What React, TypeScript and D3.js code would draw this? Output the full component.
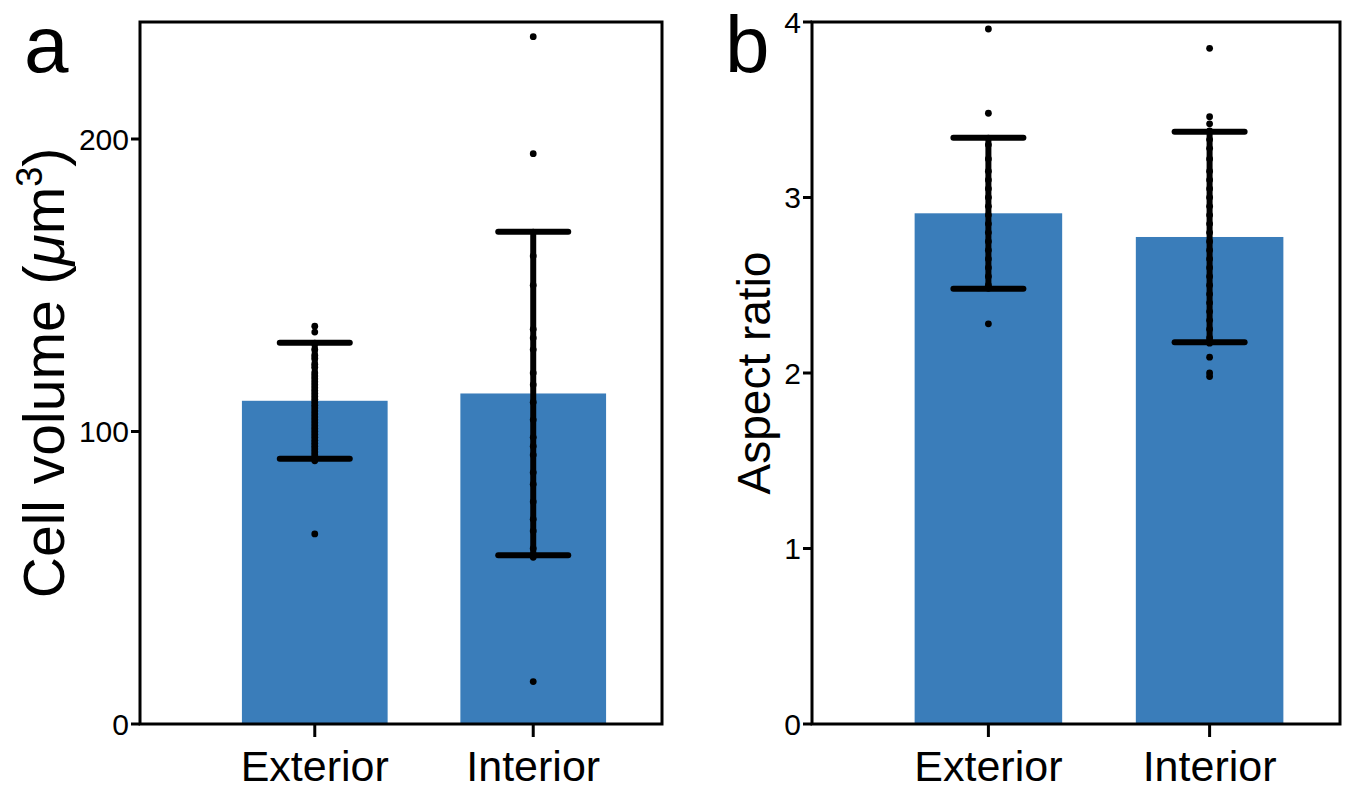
import React from "react";
import * as d3 from "d3";

const categories = ["Exterior", "Interior"];

// Panel a: cell volume
const volumeMeans = [110.5, 113];
const volumeSD = [19.8, 55.3];
const volumeExteriorPoints = [136, 134, 130, 128, 126, 125, 123, 122, 120, 119, 118, 117, 116, 115, 114, 113, 112, 111, 110, 109, 108, 107, 106, 105, 104, 103, 102, 101, 100, 99, 98, 97, 96, 95, 94, 93, 92, 91, 90, 65];
const volumeInteriorPoints = [235, 195, 160, 150, 135, 132, 128, 120, 116, 110, 104, 98, 95, 92, 86, 82, 76, 70, 66, 60, 58, 57, 14.5];

// Panel b: aspect ratio
const ratioMeans = [2.91, 2.775];
const ratioSD = [0.43, 0.6];
const ratioExteriorPoints = [3.96, 3.48, 3.3, 3.22, 3.15, 3.1, 3.05, 3.0, 2.95, 2.9, 2.85, 2.8, 2.75, 2.7, 2.65, 2.6, 2.55, 2.5, 2.28];
const ratioInteriorPoints = [3.85, 3.46, 3.42, 3.38, 3.33, 3.28, 3.22, 3.15, 3.1, 3.05, 3.0, 2.95, 2.9, 2.85, 2.8, 2.75, 2.7, 2.65, 2.6, 2.55, 2.5, 2.45, 2.4, 2.35, 2.3, 2.25, 2.2, 2.17, 2.09, 2.0, 1.98];

const volumeTicks = [0, 100, 200];
const ratioTicks = [0, 1, 2, 3, 4];

const BAR = "#3a7dba";
const FONT = "'Liberation Sans', Arial, Helvetica, sans-serif";

type PanelProps = {
  left: number; right: number; top: number; bottom: number;
  yMax: number; ticks: number[]; means: number[]; sd: number[];
  points: number[][]; title: React.ReactNode; titleX: number; titleSize: number;
};

function Panel(p: PanelProps) {
  const x = d3.scaleBand<string>().domain(categories).range([p.left + 46, p.right]).paddingInner(0.333).paddingOuter(0.256);
  const y = d3.scaleLinear().domain([0, p.yMax]).range([p.bottom, p.top]);
  const bw = x.bandwidth();
  const capHalf = 35;
  const cy = (p.top + p.bottom) / 2;
  return (
    <g>
      {categories.map((c, i) => (
        <rect key={c} x={x(c)!} y={y(p.means[i])} width={bw} height={y(0) - y(p.means[i])} fill={BAR} />
      ))}
      {categories.map((c, i) => {
        const cx = x(c)! + bw / 2;
        const hi = y(p.means[i] + p.sd[i]);
        const lo = y(p.means[i] - p.sd[i]);
        return (
          <g key={c + "e"} stroke="#000" strokeWidth={6} strokeLinecap="round">
            <line x1={cx} x2={cx} y1={hi} y2={lo} />
            <line x1={cx - capHalf} x2={cx + capHalf} y1={hi} y2={hi} />
            <line x1={cx - capHalf} x2={cx + capHalf} y1={lo} y2={lo} />
          </g>
        );
      })}
      {categories.map((c, i) => {
        const cx = x(c)! + bw / 2;
        return (
          <g key={c + "p"}>
            {p.points[i].map((v, j) => (
              <circle key={j} cx={cx} cy={y(v)} r={3.4} fill="#000" />
            ))}
          </g>
        );
      })}
      <rect x={p.left} y={p.top} width={p.right - p.left} height={p.bottom - p.top} fill="none" stroke="#000" strokeWidth={3} />
      {p.ticks.map((t) => (
        <g key={t}>
          <line x1={p.left - 9} x2={p.left} y1={y(t)} y2={y(t)} stroke="#000" strokeWidth={3} />
          <text x={p.left - 11} y={y(t)} dy="0.36em" textAnchor="end" fontSize={30} fontFamily={FONT}>{t}</text>
        </g>
      ))}
      {categories.map((c) => {
        const cx = x(c)! + bw / 2;
        return (
          <g key={c + "t"}>
            <line x1={cx} x2={cx} y1={p.bottom} y2={p.bottom + 13} stroke="#000" strokeWidth={3} />
            <text x={cx} y={p.bottom + 57} textAnchor="middle" fontSize={43} fontFamily={FONT}>{c}</text>
          </g>
        );
      })}
      <text x={p.titleX} y={cy} transform={`rotate(-90 ${p.titleX} ${cy})`} textAnchor="middle" fontSize={p.titleSize} fontFamily={FONT}>{p.title}</text>
    </g>
  );
}

export default function App() {
  return (
    <svg width={1360} height={791} style={{ position: "absolute", left: 0, top: 0, background: "#fff" }}>
      <rect width={1360} height={791} fill="#fff" />
      <text x={24} y={72} fontSize={80} fontFamily={FONT}>a</text>
      <text x={725} y={72} fontSize={80} fontFamily={FONT}>b</text>
      <Panel left={140} right={662} top={22} bottom={724} yMax={240} ticks={volumeTicks}
        means={volumeMeans} sd={volumeSD} points={[volumeExteriorPoints, volumeInteriorPoints]}
        titleX={64} titleSize={57}
        title={<>Cell volume (<tspan fontStyle="italic">μ</tspan>m<tspan dy={-22} fontSize={36}>3</tspan><tspan dy={22}>)</tspan></>} />
      <Panel left={812} right={1340} top={22} bottom={724} yMax={4} ticks={ratioTicks}
        means={ratioMeans} sd={ratioSD} points={[ratioExteriorPoints, ratioInteriorPoints]}
        titleX={770} titleSize={46} title="Aspect ratio" />
    </svg>
  );
}
